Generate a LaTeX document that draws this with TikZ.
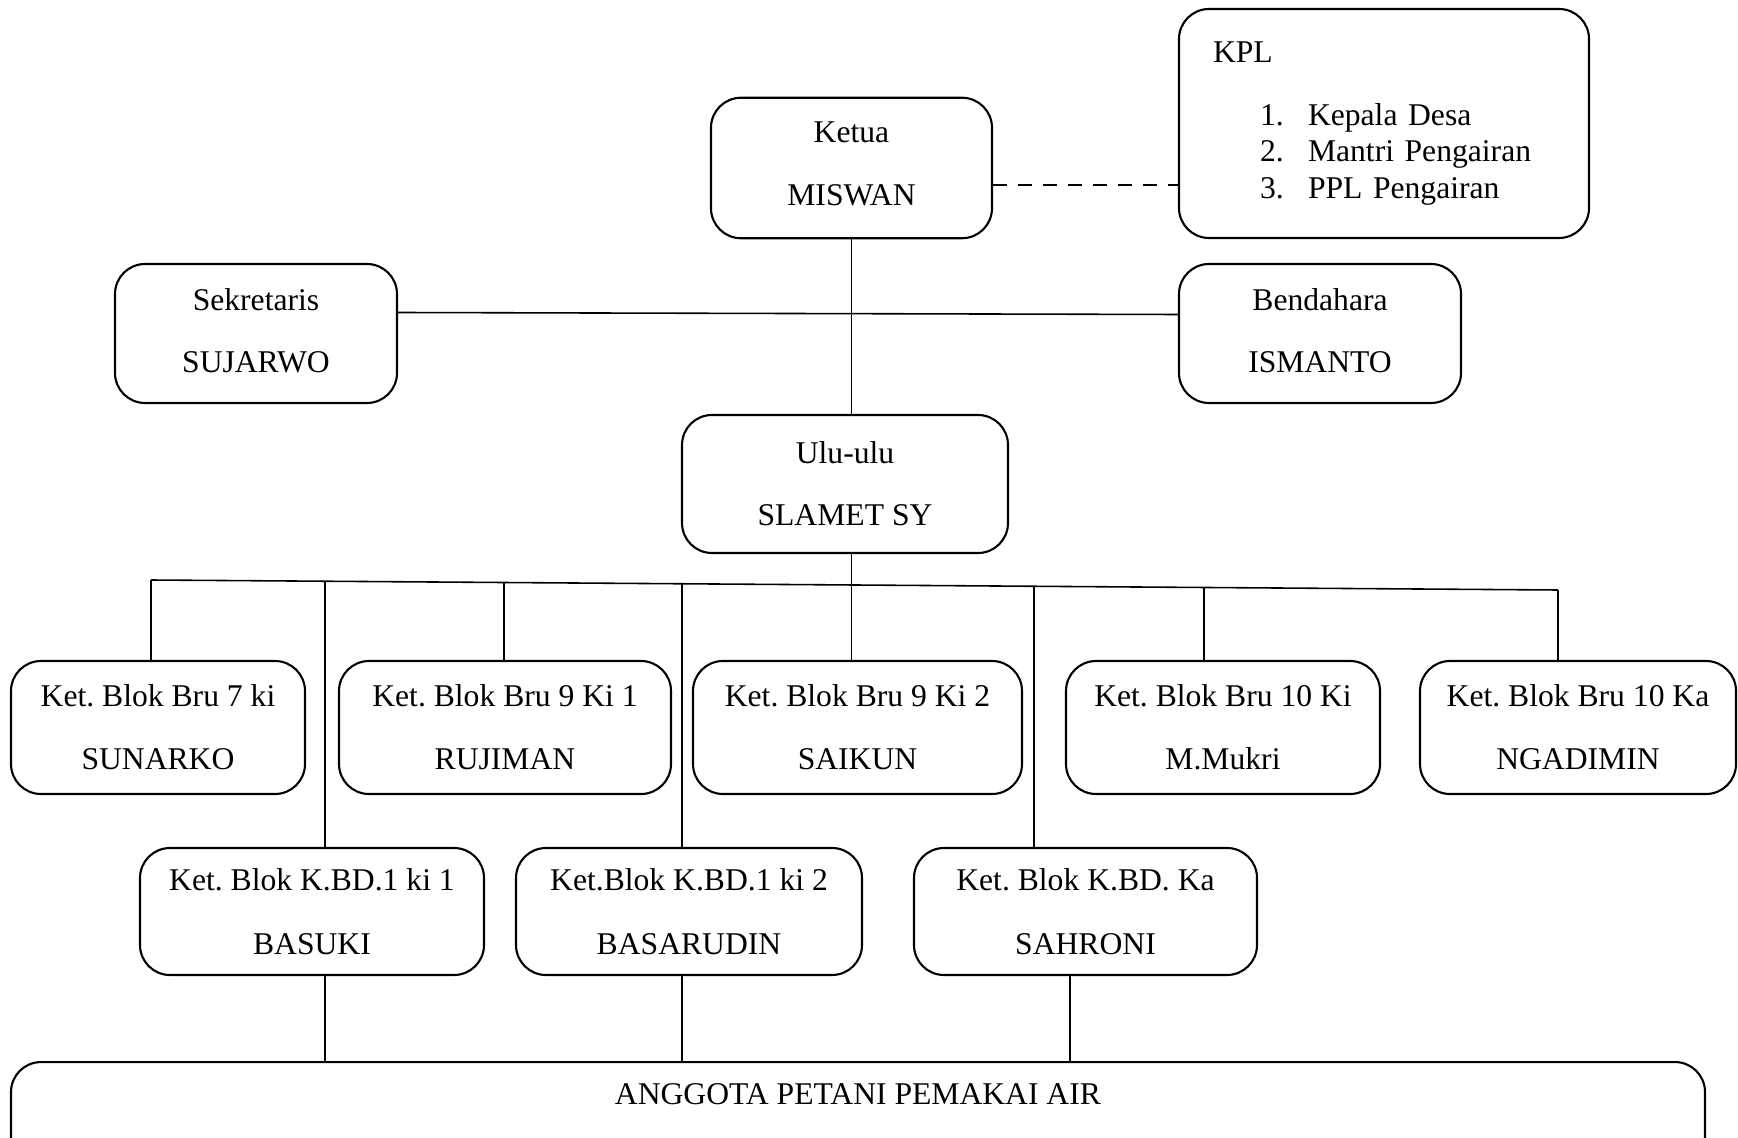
\documentclass[tikz,border=0pt]{standalone}
\usepackage{fontspec}
\setmainfont{Liberation Serif}
\usepackage{tikz}
\usetikzlibrary{positioning,calc}
\frenchspacing

\begin{document}
\begin{tikzpicture}[
    box/.style={rectangle, rounded corners=0.3cm, draw, line width=0.6pt,
                align=center, inner sep=0pt, font=\fontsize{9}{10.4}\selectfont},
    ln/.style={draw, line width=0.45pt},
    dln/.style={draw, line width=0.6pt, dash pattern=on 0.14cm off 0.11cm}]
\useasboundingbox (0,0) rectangle (17.38,-11.38);
% top level
\node[box, minimum width=2.81cm, minimum height=1.405cm] (ketua) at (8.515,-1.68) {Ketua\\[7.3pt]MISWAN\\[-7.9pt]\mbox{}};
\node[box, minimum width=4.10cm, minimum height=2.29cm, text width=3.42cm, align=left] (kpl) at (13.84,-1.235)
  {KPL\\[7.5pt]
   \hspace*{0.47cm}\makebox[0.48cm][l]{1.}Kepala Desa\\
   \hspace*{0.47cm}\makebox[0.48cm][l]{2.}Mantri Pengairan\\
   \hspace*{0.47cm}\makebox[0.48cm][l]{3.}PPL Pengairan};
\node[box, minimum width=2.82cm, minimum height=1.39cm] (sek) at (2.56,-3.335) {Sekretaris\\[7.3pt]SUJARWO\\[-8.9pt]\mbox{}};
\node[box, minimum width=2.82cm, minimum height=1.39cm] (bend) at (13.20,-3.335) {Bendahara\\[7.3pt]ISMANTO\\[-8.9pt]\mbox{}};
\node[box, minimum width=3.26cm, minimum height=1.38cm] (ulu) at (8.45,-4.84) {Ulu-ulu\\[7.3pt]SLAMET SY};
% blok row 1
\node[box, minimum width=2.94cm, minimum height=1.33cm] (bruA) at (1.58,-7.275) {Ket. Blok Bru 7 ki\\[7.6pt]SUNARKO};
\node[box, minimum width=3.32cm, minimum height=1.33cm] (bruB) at (5.05,-7.275) {Ket. Blok Bru 9 Ki 1\\[7.6pt]RUJIMAN};
\node[box, minimum width=3.29cm, minimum height=1.33cm] (bruC) at (8.575,-7.275) {Ket. Blok Bru 9 Ki 2\\[7.6pt]SAIKUN};
\node[box, minimum width=3.14cm, minimum height=1.33cm] (bruD) at (12.23,-7.275) {Ket. Blok Bru 10 Ki\\[7.6pt]M.Mukri};
\node[box, minimum width=3.16cm, minimum height=1.33cm] (bruE) at (15.78,-7.275) {Ket. Blok Bru 10 Ka\\[7.6pt]NGADIMIN};
% blok row 2
\node[box, minimum width=3.44cm, minimum height=1.27cm] (kbdA) at (3.12,-9.115) {Ket. Blok K.BD.1 ki 1\\[7.9pt]BASUKI};
\node[box, minimum width=3.46cm, minimum height=1.27cm] (kbdB) at (6.89,-9.115) {Ket.Blok K.BD.1 ki 2\\[7.9pt]BASARUDIN};
\node[box, minimum width=3.43cm, minimum height=1.27cm] (kbdC) at (10.855,-9.115) {Ket. Blok K.BD. Ka\\[7.9pt]SAHRONI};
% anggota
\node[box, anchor=north, minimum width=16.94cm, text height=0.29cm, text depth=1.2cm, inner ysep=0.13cm] (anggota) at (8.58,-10.61)
  {ANGGOTA PETANI PEMAKAI AIR};
% connectors
\draw[dln] ([yshift=-0.17cm]ketua.east) -- ([yshift=-0.17cm]ketua.east -| kpl.west);
\draw[ln] (ketua.south) -- (ketua.south |- ulu.north);
\draw[ln] ([yshift=0.21cm]sek.east) -- ([yshift=0.19cm]bend.west);
\draw[ln] (ketua.south |- ulu.south) -- (ketua.south |- bruC.north);
\coordinate (busL) at (1.51,-5.80);
\coordinate (busR) at (15.58,-5.90);
\draw[ln] (busL) -- (busR);
\foreach \x/\n in {1.51/bruA, 3.25/kbdA, 5.04/bruB, 6.82/kbdB, 10.34/kbdC, 12.04/bruD, 15.58/bruE}{
  \pgfmathsetmacro\t{(\x-1.51)/14.07}
  \draw[ln] ($(busL)!\t!(busR)$) -- (\x,0 |- \n.north);
}
\foreach \x/\n in {3.25/kbdA, 6.82/kbdB, 10.70/kbdC}
  \draw[ln] (\x,0 |- \n.south) -- (\x,0 |- anggota.north);
\end{tikzpicture}
\end{document}
